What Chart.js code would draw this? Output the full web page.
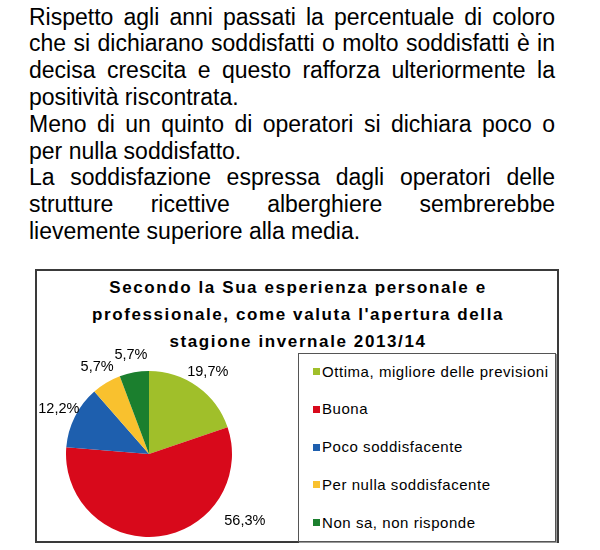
<!DOCTYPE html>
<html>
<head>
<meta charset="utf-8">
<script src="https://cdn.jsdelivr.net/npm/chart.js@4/dist/chart.umd.min.js"></script>
<style>
    body { margin: 0; width: 600px; height: 550px; background: #fff; overflow: hidden; position: relative; font-family: "Liberation Sans", Arial, sans-serif; color: #000; }
    #text { position: absolute; left: 29px; top: 3.6px; width: 526px; font-size: 23px; line-height: 26.8px; }
    #text div { text-align: justify; }
    #text div.j { text-align-last: justify; }
    #box { position: absolute; left: 35px; top: 269px; width: 520px; height: 270px; border: 2px solid #3a3a3a; }
    #title { position: absolute; left: 35px; top: 273.5px; width: 526px; text-align: center; font-weight: bold; font-size: 17px; letter-spacing: 1.6px; line-height: 27px; }
    #chartWrap { position: absolute; left: 36px; top: 340px; width: 260px; height: 202px; }
    #legend { position: absolute; left: 298px; top: 353px; width: 256px; height: 187px; border: 1px solid #555; box-shadow: 1px 1px 0 #999; }
    .item { position: relative; height: 37.8px; line-height: 37.8px; font-size: 15px; letter-spacing: 0.55px; padding-left: 23px; margin-top: -1.4px; margin-bottom: 1.4px; white-space: nowrap; }
    .item span { position: absolute; left: 14px; top: 15.4px; width: 7px; height: 7px; }
</style>
</head>
<body>
<div id="text">
    <div class="j">Rispetto agli anni passati la percentuale di coloro</div>
    <div class="j">che si dichiarano soddisfatti o molto soddisfatti è in</div>
    <div class="j">decisa crescita e questo rafforza ulteriormente la</div>
    <div>positività riscontrata.</div>
    <div class="j">Meno di un quinto di operatori si dichiara poco o</div>
    <div>per nulla soddisfatto.</div>
    <div class="j">La soddisfazione espressa dagli operatori delle</div>
    <div class="j">strutture ricettive alberghiere sembrerebbe</div>
    <div>lievemente superiore alla media.</div>
</div>
<div id="box"></div>
<div id="title">Secondo la Sua esperienza personale e<br>professionale, come valuta l'apertura della<br>stagione invernale 2013/14</div>
<div id="chartWrap"><canvas id="pieChart"></canvas></div>
<div id="legend"></div>
<script>
const categories = ['Ottima, migliore delle previsioni', 'Buona', 'Poco soddisfacente', 'Per nulla soddisfacente', 'Non sa, non risponde'];
const values = [19.7, 56.3, 12.2, 5.7, 5.7];
const colors = ['#a0bf2a', '#d8091b', '#1e5fae', '#f9c12e', '#1b7f2e'];

// legend built from the same arrays
document.getElementById('legend').innerHTML = categories.map((c, i) =>
    `<div class="item"><span style="background:${colors[i]}"></span>${c}</div>`
).join('');

// percent labels outside the slices, Excel style
const outsideLabels = {
    id: 'outsideLabels',
    afterDatasetsDraw(chart, args, opts) {
        const ctx = chart.ctx;
        const meta = chart.getDatasetMeta(0);
        ctx.save();
        ctx.font = '14.5px "Liberation Sans", Arial, sans-serif';
        ctx.fillStyle = '#000';
        ctx.textAlign = 'center';
        ctx.textBaseline = 'middle';
        meta.data.forEach((arc, i) => {
            const p = arc.getProps(['x', 'y', 'startAngle', 'endAngle', 'outerRadius'], true);
            let angle = (p.startAngle + p.endAngle) / 2;
            let dist = p.outerRadius + opts.offset;
            const o = opts.overrides[i];
            if (o) {
                angle = (o.angle - 90) * Math.PI / 180;
                dist = p.outerRadius + o.offset;
            }
            const txt = values[i].toFixed(1).replace('.', ',') + '%';
            ctx.fillText(txt, p.x + Math.cos(angle) * dist, p.y + Math.sin(angle) * dist);
        });
        ctx.restore();
    }
};

new Chart(document.getElementById('pieChart').getContext('2d'), {
    type: 'pie',
    data: {
        labels: categories,
        datasets: [{
            data: values,
            backgroundColor: colors,
            borderWidth: 0
        }]
    },
    options: {
        responsive: true,
        maintainAspectRatio: false,
        animation: false,
        layout: { padding: { left: 30, right: 64, top: 31, bottom: 5 } },
        plugins: {
            legend: { display: false },
            tooltip: { enabled: false },
            outsideLabels: { offset: 18, overrides: { 1: { angle: 125, offset: 34 } } }
        }
    },
    plugins: [outsideLabels]
});
</script>
</body>
</html>
